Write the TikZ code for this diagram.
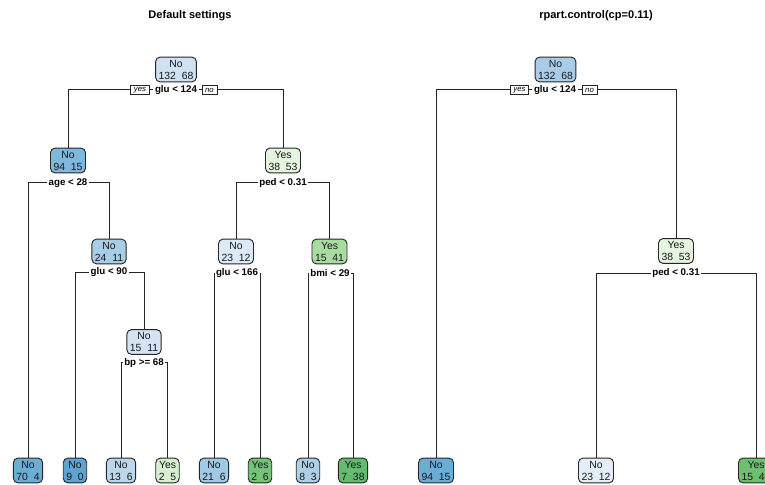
\documentclass[tikz,border=0pt]{standalone}
\usepackage{fontspec}
\setmainfont{Liberation Sans}
\definecolor{cA}{HTML}{CFE1F2}
\definecolor{cB}{HTML}{7FB8DD}
\definecolor{cC}{HTML}{6AADD5}
\definecolor{cD}{HTML}{A8CDE6}
\definecolor{cE}{HTML}{5FA3D3}
\definecolor{cF}{HTML}{D4E4F4}
\definecolor{cG}{HTML}{BDD6EC}
\definecolor{cH}{HTML}{D6EFCF}
\definecolor{cI}{HTML}{E4F4DF}
\definecolor{cJ}{HTML}{DCE9F6}
\definecolor{cK}{HTML}{A8DCA0}
\definecolor{cL}{HTML}{A0C9E5}
\definecolor{cM}{HTML}{74C476}
\definecolor{cN}{HTML}{ACD0E8}
\definecolor{cO}{HTML}{63BC6D}
\definecolor{cP}{HTML}{A9CDE8}
\definecolor{cQ}{HTML}{E3EEF8}
\definecolor{cR}{HTML}{6CC070}
\begin{document}
\begin{tikzpicture}[x=0.75pt,y=-0.75pt,
  box/.style={draw=black!85, rounded corners=3.5pt, line width=0.7pt, fill=#1,
    inner xsep=2.3pt, inner ysep=2.1pt, align=center, text=black!90,
    font=\fontsize{7.8}{9}\selectfont},
  splitlbl/.style={fill=white, inner xsep=1pt, inner ysep=0.8pt, font=\bfseries\fontsize{7.3}{8}\selectfont},
  yn/.style={draw=black!85, fill=white, line width=0.45pt, inner xsep=2.4pt, inner ysep=0pt,
    minimum height=6.8pt, font=\itshape\fontsize{5.8}{6}\selectfont},
  ttl/.style={font=\bfseries\fontsize{8.3}{9}\selectfont},
  conn/.style={draw=black!85, line width=0.75pt}]
\useasboundingbox (0,0) rectangle (765,485);
\clip (0,0) rectangle (765,485);
\fill[white] (0,0) rectangle (765,485);

% titles
\node[ttl] (t1) at (190,16) {Default settings};
\node[ttl] (t2) at (596,16) {rpart.control(cp=0.11)};

% ---------- left tree ----------
\node[box=cA] (r) at (176,69.5) {No\\132~~68};
\node[splitlbl] (s0) at (176,90) {glu < 124};
\node[yn] (y0) at (140,90) {yes};
\node[yn] (o0) at (209.5,90) {no};

\node[box=cB] (n1) at (68,160.5) {No\\94~~15};
\node[splitlbl] (s1) at (68,183) {age < 28};
\node[box=cC] (l1) at (28,470.5) {No\\70~~4};
\node[box=cD] (n3) at (109,251.5) {No\\24~~11};
\node[splitlbl] (s3) at (109,272.5) {glu < 90};
\node[box=cE] (l2) at (75,470.5) {No\\9~~0};
\node[box=cF] (n5) at (144,342) {No\\15~~11};
\node[splitlbl] (s5) at (144,362.5) {bp >= 68};
\node[box=cG] (l3) at (121,470.5) {No\\13~~6};
\node[box=cH] (l4) at (167.5,470.5) {Yes\\2~~5};

\node[box=cI] (n8) at (283,160.5) {Yes\\38~~53};
\node[splitlbl] (s8) at (283,183) {ped < 0.31};
\node[box=cJ] (n9) at (236,251.5) {No\\23~~12};
\node[splitlbl] (s9) at (237,273) {glu < 166};
\node[box=cK] (n10) at (329.5,251.5) {Yes\\15~~41};
\node[splitlbl] (s10) at (330,273) {bmi < 29};
\node[box=cL] (l5) at (214,470.5) {No\\21~~6};
\node[box=cM] (l6) at (260,470.5) {Yes\\2~~6};
\node[box=cN] (l7) at (308,470.5) {No\\8~~3};
\node[box=cO] (l8) at (353,470.5) {Yes\\7~~38};

\draw[conn] (y0.east) -- (s0.west);
\draw[conn] (s0.east) -- (o0.west);
\draw[conn] (y0.west) -| (n1.north);
\draw[conn] (o0.east) -| (n8.north);
\draw[conn] (s1.west) -| (l1.north);
\draw[conn] (s1.east) -| (n3.north);
\draw[conn] (s3.west) -| (l2.north);
\draw[conn] (s3.east) -| (n5.north);
\draw[conn] (s5.west) -| (l3.north);
\draw[conn] (s5.east) -| (l4.north);
\draw[conn] (s8.west) -| (n9.north);
\draw[conn] (s8.east) -| (n10.north);
\draw[conn] (s9.west) -| (l5.north);
\draw[conn] (s9.east) -| (l6.north);
\draw[conn] (s10.west) -| (l7.north);
\draw[conn] (s10.east) -| (l8.north);

% ---------- right tree ----------
\node[box=cP] (R) at (555.5,69.5) {No\\132~~68};
\node[splitlbl] (S0) at (555,90) {glu < 124};
\node[yn] (Y0) at (519.5,90) {yes};
\node[yn] (O0) at (589.5,90) {no};
\node[box=cC] (L1) at (436,470.5) {No\\94~~15};
\node[box=cI] (N2) at (676,251) {Yes\\38~~53};
\node[splitlbl] (S2) at (676,273) {ped < 0.31};
\node[box=cQ] (L2) at (596,470.5) {No\\23~~12};
\node[box=cR] (L3) at (756,470.5) {Yes\\15~~41};

\draw[conn] (Y0.east) -- (S0.west);
\draw[conn] (S0.east) -- (O0.west);
\draw[conn] (Y0.west) -| (L1.north);
\draw[conn] (O0.east) -| (N2.north);
\draw[conn] (S2.west) -| (L2.north);
\draw[conn] (S2.east) -| (L3.north);
\end{tikzpicture}
\end{document}
